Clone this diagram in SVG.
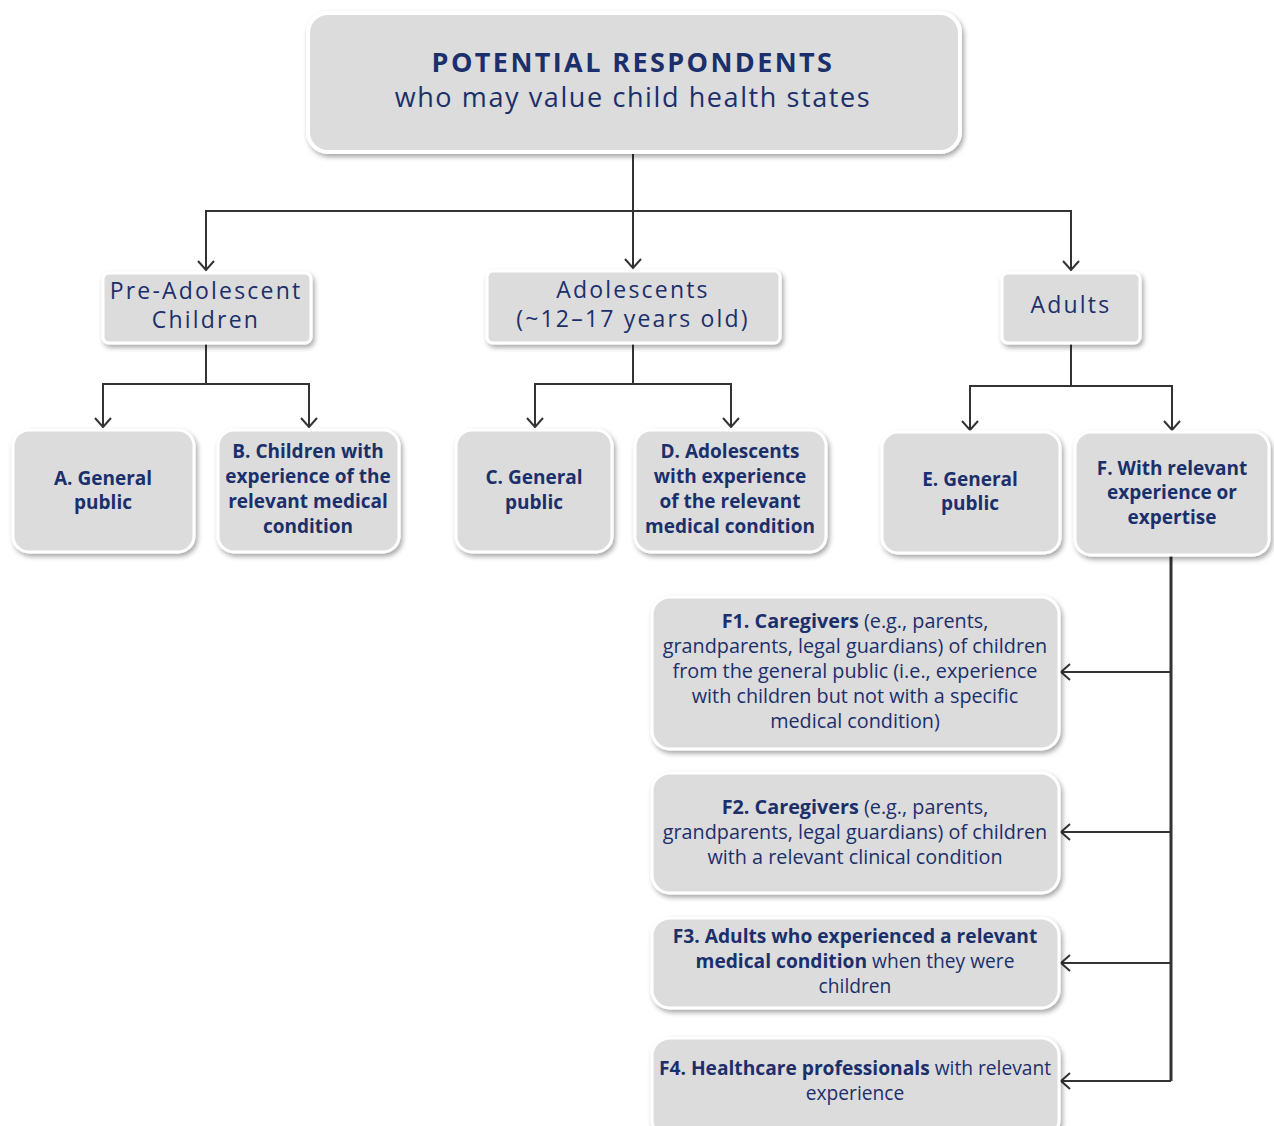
<svg xmlns="http://www.w3.org/2000/svg" width="1274" height="1126" viewBox="0 0 1274 1126">
<style>
.box{fill:#dcdcdc;stroke:#ffffff;stroke-width:3;filter:url(#sh)}
.t{font-family:"Open Sans","Liberation Sans",sans-serif;fill:#1b2f6b;text-anchor:middle}
.b{font-weight:bold}
.lv{font-size:23px;letter-spacing:2.2px}
.ch{font-size:19px;font-weight:bold}
.f{font-size:19.8px}
.s{font-size:19.2px}
.ln{fill:none;stroke:#333;stroke-width:2}
</style>
<defs>
<filter id="sh" x="-10%" y="-10%" width="125%" height="130%">
<feDropShadow dx="2" dy="3" stdDeviation="2.5" flood-color="#000" flood-opacity="0.35"/>
</filter>
<marker id="ar" viewBox="0 0 20 20" refX="18" refY="10" markerWidth="20" markerHeight="20" markerUnits="userSpaceOnUse" orient="auto-start-reverse">
<polyline points="9,2 18,10 9,18" fill="none" stroke="#333" stroke-width="2"/>
</marker>
</defs>

<g id="connectors">
<path class="ln" d="M633,152 V211"/>
<path class="ln" d="M206,270 V211 H1071 V270" marker-start="url(#ar)" marker-end="url(#ar)"/>
<path class="ln" d="M633,211 V268" marker-end="url(#ar)"/>
<path class="ln" d="M206,343 V384"/>
<path class="ln" d="M103,427 V384 H309 V427" marker-start="url(#ar)" marker-end="url(#ar)"/>
<path class="ln" d="M633,343 V384"/>
<path class="ln" d="M535,427 V384 H731 V427" marker-start="url(#ar)" marker-end="url(#ar)"/>
<path class="ln" d="M1071,343 V386"/>
<path class="ln" d="M970,430 V386 H1172 V430" marker-start="url(#ar)" marker-end="url(#ar)"/>
<path class="ln" d="M1171,555 V1081" style="stroke-width:3"/>
<path class="ln" d="M1171,672 H1061" marker-end="url(#ar)"/>
<path class="ln" d="M1171,832 H1061" marker-end="url(#ar)"/>
<path class="ln" d="M1171,963 H1061" marker-end="url(#ar)"/>
<path class="ln" d="M1171,1081 H1061" marker-end="url(#ar)"/>
</g>

<g id="root">
<rect class="box" x="308" y="13" width="652" height="139" rx="20" style="stroke-width:4"/>
<text class="t b" x="633" y="72" font-size="27" letter-spacing="2.4">POTENTIAL RESPONDENTS</text>
<text class="t" x="633" y="107" font-size="27" letter-spacing="1.6">who may value child health states</text>
</g>

<g id="pre">
<rect class="box" x="103" y="273" width="208" height="70" rx="6"/>
<text class="t lv" x="206" y="299">Pre-Adolescent</text>
<text class="t lv" x="206" y="328">Children</text>
</g>
<g id="adol">
<rect class="box" x="487" y="271" width="293" height="72" rx="6"/>
<text class="t lv" x="633" y="298">Adolescents</text>
<text class="t lv" x="633" y="327">(~12–17 years old)</text>
</g>
<g id="adults">
<rect class="box" x="1002" y="273" width="138" height="70" rx="6"/>
<text class="t lv" x="1071" y="313">Adults</text>
</g>

<g id="A">
<rect class="box" x="13" y="430" width="181" height="122" rx="16"/>
<text class="t ch" x="103" y="485">A. General</text>
<text class="t ch" x="103" y="509">public</text>
</g>
<g id="B">
<rect class="box" x="218" y="430" width="181" height="122" rx="16"/>
<text class="t ch" x="308" y="458">B. Children with</text>
<text class="t ch" x="308" y="483">experience of the</text>
<text class="t ch" x="308" y="508">relevant medical</text>
<text class="t ch" x="308" y="533">condition</text>
</g>
<g id="C">
<rect class="box" x="456" y="430" width="156" height="122" rx="16"/>
<text class="t ch" x="534" y="484">C. General</text>
<text class="t ch" x="534" y="509">public</text>
</g>
<g id="D">
<rect class="box" x="635" y="430" width="191" height="122" rx="16"/>
<text class="t ch" x="730" y="458">D. Adolescents</text>
<text class="t ch" x="730" y="483">with experience</text>
<text class="t ch" x="730" y="508">of the relevant</text>
<text class="t ch" x="730" y="533">medical condition</text>
</g>
<g id="E">
<rect class="box" x="882" y="432" width="178" height="121" rx="16"/>
<text class="t ch" x="970" y="486">E. General</text>
<text class="t ch" x="970" y="510">public</text>
</g>
<g id="F">
<rect class="box" x="1075" y="432" width="194" height="123" rx="16"/>
<text class="t ch" x="1172" y="475">F. With relevant</text>
<text class="t ch" x="1172" y="499">experience or</text>
<text class="t ch" x="1172" y="524">expertise</text>
</g>

<g id="F1">
<rect class="box" x="652" y="597" width="407" height="152" rx="18"/>
<text class="t f" x="855" y="628"><tspan class="b">F1. Caregivers</tspan> (e.g., parents,</text>
<text class="t f" x="855" y="653">grandparents, legal guardians) of children</text>
<text class="t f" x="855" y="678">from the general public (i.e., experience</text>
<text class="t f" x="855" y="703">with children but not with a specific</text>
<text class="t f" x="855" y="728">medical condition)</text>
</g>
<g id="F2">
<rect class="box" x="652" y="773" width="407" height="120" rx="18"/>
<text class="t f" x="855" y="814"><tspan class="b">F2. Caregivers</tspan> (e.g., parents,</text>
<text class="t f" x="855" y="839">grandparents, legal guardians) of children</text>
<text class="t f" x="855" y="864">with a relevant clinical condition</text>
</g>
<g id="F3">
<rect class="box" x="652" y="918" width="407" height="90" rx="18"/>
<text class="t s b" x="855" y="943">F3. Adults who experienced a relevant</text>
<text class="t s" x="855" y="968"><tspan class="b">medical condition</tspan> when they were</text>
<text class="t s" x="855" y="993">children</text>
</g>
<g id="F4">
<rect class="box" x="652" y="1038" width="407" height="100" rx="18"/>
<text class="t s" x="855" y="1075"><tspan class="b">F4. Healthcare professionals</tspan> with relevant</text>
<text class="t s" x="855" y="1100">experience</text>
</g>
</svg>
